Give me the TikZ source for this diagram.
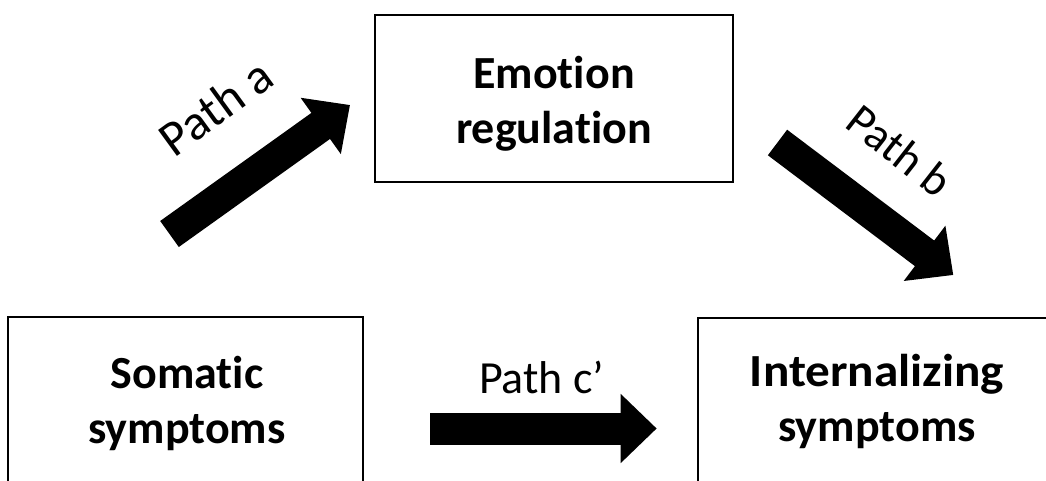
\documentclass[tikz,border=0pt]{standalone}
\usepackage{fontspec}
\setmainfont{Carlito}[Ligatures=NoCommon]
\usetikzlibrary{arrows.meta}
\begin{document}
\begin{tikzpicture}[x=1pt,y=-1pt,
  box/.style={draw, line width=2.8pt, inner sep=0pt},
  boxtext/.style={font=\bfseries\fontsize{46}{55}\selectfont, align=center, inner sep=0pt},
  pathlabel/.style={font=\fontsize{46}{55}\selectfont, inner sep=0pt, anchor=base},
  blockarrow/.style={line width=32pt, -{Triangle[length=36pt,width=67pt]}}]
\useasboundingbox (0,0) rectangle (1046,481);
% boxes
\node[box, minimum width=355pt, minimum height=171pt] (som) at (185.5,402.5) {};
\node[box, minimum width=358pt, minimum height=167pt] (emo) at (554,98.5) {};
\node[box, minimum width=392pt, minimum height=171pt] (int) at (894,403.5) {};
% box texts
\node[boxtext] (somt) at (187,403) {Somatic\\symptoms};
\node[boxtext] (emot) at (554,104) {Emotion\\regulation};
\node[boxtext] (intt) at (877,401) {\scalebox{1.07}[1]{Internalizing}\\symptoms};
% arrows
\coordinate (a1) at (169.5,234); \coordinate (a2) at (350,105);
\coordinate (b1) at (777.5,142.5); \coordinate (b2) at (953.3,275);
\coordinate (c1) at (430,428.5); \coordinate (c2) at (656.7,428.5);
\draw[blockarrow] (a1) -- (a2);
\draw[blockarrow] (b1) -- (b2);
\draw[blockarrow] (c1) -- (c2);
% labels
\node[pathlabel, rotate=36, font=\fontsize{50}{55}\selectfont] (la) at (226,121) {Path a};
\node[pathlabel, rotate=-38] (lb) at (890,163) {Path b};
\node[pathlabel] (lc) at (541.7,393.3) {Path c’};
\end{tikzpicture}
\end{document}
